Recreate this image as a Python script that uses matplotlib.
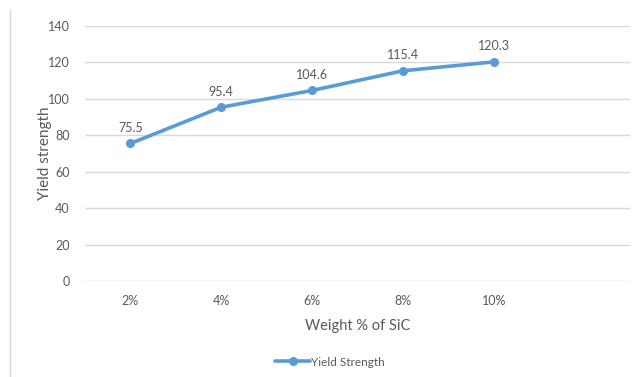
import matplotlib.pyplot as plt
from matplotlib.lines import Line2D

plt.rcParams['font.family'] = ['Lato', 'DejaVu Sans']

categories = ['2%', '4%', '6%', '8%', '10%', '']
yield_strength = [75.5, 95.4, 104.6, 115.4, 120.3]
yticks = [0, 20, 40, 60, 80, 100, 120, 140]

text_col = '#595959'
line_col = '#5B9BD5'
grid_col = '#D9D9D9'

fig = plt.figure(figsize=(6.34, 3.77), dpi=100)
ax = fig.add_axes([85 / 634, 96 / 377, 545 / 634, 255 / 377])

x = list(range(len(yield_strength)))
ax.plot(x, yield_strength, color=line_col, lw=2.6, marker='o', ms=5.5,
        solid_capstyle='round', label='Yield Strength', zorder=3)
for xi, yi in zip(x, yield_strength):
    ax.annotate(f'{yi}', (xi, yi), xytext=(0, 7), textcoords='offset points',
                ha='center', va='bottom', fontsize=9, color=text_col)

ax.set_xlim(-0.5, len(categories) - 0.5)
ax.set_ylim(0, 140)
ax.set_xticks(range(len(categories)))
ax.set_xticklabels(categories)
ax.set_yticks(yticks)
ax.tick_params(length=0, labelsize=9, labelcolor=text_col)
ax.tick_params(axis='x', pad=10)
ax.tick_params(axis='y', pad=11)
ax.grid(axis='y', color=grid_col, lw=1)
ax.set_axisbelow(True)
for s in ax.spines.values():
    s.set_visible(False)

ax.set_xlabel('Weight % of SiC', fontsize=10.5, color=text_col, labelpad=9)
ax.set_ylabel('Yield strength', fontsize=11, color=text_col, labelpad=-3)

fig.legend(loc='center', bbox_to_anchor=(330 / 634, 1 - 362 / 377), frameon=False,
           fontsize=8.5, labelcolor=text_col, handlelength=3, handletextpad=0.1)

# thin border on the left side of the chart
fig.add_artist(Line2D([10 / 634, 10 / 634], [0, 1 - 10 / 377], color=grid_col, lw=1))

fig.savefig('out.png', dpi=100, facecolor='white')
